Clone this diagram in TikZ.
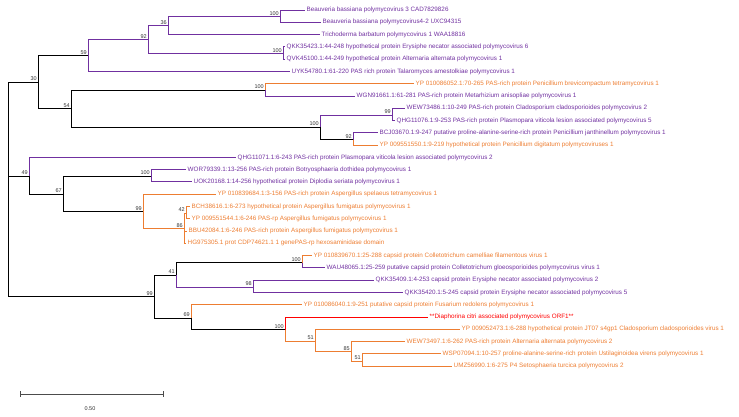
\documentclass[tikz,border=0pt]{standalone}
\usepackage{fontspec}
\setmainfont{Liberation Sans}
\definecolor{vpurple}{RGB}{112,48,160}
\definecolor{vorange}{RGB}{237,125,49}
\definecolor{vred}{RGB}{255,0,0}
\tikzset{
    leaf/.style={anchor=west,inner sep=1.5pt,font=\fontsize{6.3}{7}\selectfont},
    lab/.style={font=\fontsize{5.5}{6}\selectfont,inner sep=1pt,text=black!80},
    br/.style={line width=1pt}
}
\begin{document}
\begin{tikzpicture}[x=1pt,y=-1pt]
    \useasboundingbox (0,0) rectangle (739,416);
    % internal nodes
    \coordinate[label={[lab]above left:100}] (A) at (280,16.5);
    \coordinate[label={[lab]above left:36}] (B) at (168,25.7);
    \coordinate[label={[lab]above left:100}] (C) at (283,53.5);
    \coordinate[label={[lab]above left:92}] (D) at (148,39.6);
    \coordinate[label={[lab]above left:59}] (E) at (88,55.8);
    \coordinate[label={[lab]above left:100}] (F) at (265,90);
    \coordinate[label={[lab]above left:99}] (G) at (392,115);
    \coordinate[label={[lab]above left:92}] (H) at (353,139.5);
    \coordinate[label={[lab]above left:100}] (I) at (320,127);
    \coordinate[label={[lab]above left:54}] (J) at (71,108.5);
    \coordinate[label={[lab]above left:30}] (K) at (38,82);
    \coordinate[label={[lab]above left:42}] (L) at (186,213);
    \coordinate[label={[lab]above left:86}] (M) at (184,228.5);
    \coordinate[label={[lab]above left:99}] (N) at (143,211.7);
    \coordinate[label={[lab]above left:100}] (O) at (151,176);
    \coordinate[label={[lab]above left:67}] (P) at (63,194);
    \coordinate[label={[lab]above left:49}] (Q) at (29,176);
    \coordinate[label={[lab]above left:100}] (U) at (302,262.5);
    \coordinate[label={[lab]above left:98}] (V) at (253,287);
    \coordinate[label={[lab]above left:41}] (T) at (176,275);
    \coordinate[label={[lab]above left:51}] (AA) at (362,361);
    \coordinate[label={[lab]above left:85}] (Z) at (351,351.5);
    \coordinate[label={[lab]above left:51}] (Y) at (315,341);
    \coordinate[label={[lab]above left:100}] (X) at (285,329.5);
    \coordinate[label={[lab]above left:69}] (W) at (191,318);
    \coordinate[label={[lab]above left:99}] (S) at (154,296.5);
    \coordinate (R) at (8,189);

    % leaves
    \node[leaf,text=vpurple] (l1) at (305,10) {Beauveria bassiana polymycovirus 3 CAD7829826};
    \node[leaf,text=vpurple] (l2) at (321,22.3) {Beauveria bassiana polymycovirus4-2 UXC94315};
    \node[leaf,text=vpurple] (l3) at (320,34.6) {Trichoderma barbatum polymycovirus 1 WAA18816};
    \node[leaf,text=vpurple] (l4) at (285,46.8) {QKK35423.1:44-248 hypothetical protein Erysiphe necator associated polymycovirus 6};
    \node[leaf,text=vpurple] (l5) at (285,59.1) {QVK45100.1:44-249 hypothetical protein Alternaria alternata polymycovirus 1};
    \node[leaf,text=vpurple] (l6) at (290,71.4) {UYK54780.1:61-220 PAS rich protein Talaromyces amestolkiae polymycovirus 1};
    \node[leaf,text=vorange] (l7) at (414,83.7) {YP 010086052.1:70-265 PAS-rich protein Penicillium brevicompactum tetramycovirus 1};
    \node[leaf,text=vpurple] (l8) at (355,96) {WGN91661.1:61-281 PAS-rich protein Metarhizium anisopliae polymycovirus 1};
    \node[leaf,text=vpurple] (l9) at (405,108.2) {WEW73486.1:10-249 PAS-rich protein Cladosporium cladosporioides polymycovirus 2};
    \node[leaf,text=vpurple] (l10) at (395,120.5) {QHG11076.1:9-253 PAS-rich protein Plasmopara viticola lesion associated polymycovirus 5};
    \node[leaf,text=vpurple] (l11) at (378,132.8) {BCJ03670.1:9-247 putative proline-alanine-serine-rich protein Penicillium janthinellum polymycovirus 1};
    \node[leaf,text=vorange] (l12) at (378,145.1) {YP 009551550.1:9-219 hypothetical protein Penicillium digitatum polymycoviruses 1};
    \node[leaf,text=vpurple] (l13) at (236,157.4) {QHG11071.1:6-243 PAS-rich protein Plasmopara viticola lesion associated polymycovirus 2};
    \node[leaf,text=vpurple] (l14) at (186,169.6) {WOR79339.1:13-256 PAS-rich protein Botryosphaeria dothidea polymycovirus 1};
    \node[leaf,text=vpurple] (l15) at (192,181.9) {UOK20168.1:14-256 hypothetical protein Diplodia seriata polymycovirus 1};
    \node[leaf,text=vorange] (l16) at (216,194.2) {YP 010839684.1:3-156 PAS-rich protein Aspergillus spelaeus tetramycovirus 1};
    \node[leaf,text=vorange] (l17) at (190,206.5) {BCH38616.1:6-273 hypothetical protein Aspergillus fumigatus polymycovirus 1};
    \node[leaf,text=vorange] (l18) at (190,218.8) {YP 009551544.1:6-246 PAS-rp Aspergillus fumigatus polymycovirus 1};
    \node[leaf,text=vorange] (l19) at (187,231) {BBU42084.1:6-246 PAS-rich protein Aspergillus fumigatus polymycovirus 1};
    \node[leaf,text=vorange] (l20) at (186,243.3) {HG975305.1 prot CDP74621.1 1 genePAS-rp hexosaminidase domain};
    \node[leaf,text=vorange] (l21) at (312,255.6) {YP 010839670.1:25-288 capsid protein Colletotrichum camelliae filamentous virus 1};
    \node[leaf,text=vpurple] (l22) at (325,267.9) {WAU48065.1:25-259 putative capsid protein Colletotrichum gloeosporioides polymycovirus virus 1};
    \node[leaf,text=vpurple] (l23) at (374,280.2) {QKK35409.1:4-253 capsid protein Erysiphe necator associated polymycovirus 2};
    \node[leaf,text=vpurple] (l24) at (403,292.4) {QKK35420.1:5-245 capsid protein Erysiphe necator associated polymycovirus 5};
    \node[leaf,text=vorange] (l25) at (302,304.7) {YP 010086040.1:9-251 putative capsid protein Fusarium redolens polymycovirus 1};
    \node[leaf,text=vred] (l26) at (428,317) {**Diaphorina citri associated polymycovirus ORF1**};
    \node[leaf,text=vorange] (l27) at (460,329.3) {YP 009052473.1:6-288 hypothetical protein JT07 s4gp1 Cladosporium cladosporioides virus 1};
    \node[leaf,text=vorange] (l28) at (405,341.6) {WEW73497.1:6-262 PAS-rich protein Alternaria alternata polymycovirus 2};
    \node[leaf,text=vorange] (l29) at (441,353.8) {WSP07094.1:10-257 proline-alanine-serine-rich protein Ustilaginoidea virens polymycovirus 1};
    \node[leaf,text=vorange] (l30) at (452,366.1) {UMZ56990.1:6-275 P4 Setosphaeria turcica polymycovirus 2};

    % branches
    \draw[br,vpurple] (A) |- (l1.west);
    \draw[br,vpurple] (A) |- (l2.west);
    \draw[br,vpurple] (B) |- (A);
    \draw[br,vpurple] (B) |- (l3.west);
    \draw[br,vpurple] (C) |- (l4.west);
    \draw[br,vpurple] (C) |- (l5.west);
    \draw[br,vpurple] (D) |- (B);
    \draw[br,vpurple] (D) |- (C);
    \draw[br,vpurple] (E) |- (D);
    \draw[br,vpurple] (E) |- (l6.west);
    \draw[br,vorange] (F) |- (l7.west);
    \draw[br,vpurple] (F) |- (l8.west);
    \draw[br,vpurple] (G) |- (l9.west);
    \draw[br,vpurple] (G) |- (l10.west);
    \draw[br,vpurple] (H) |- (l11.west);
    \draw[br,vorange] (H) |- (l12.west);
    \draw[br,vpurple] (I) |- (G);
    \draw[br] (I) |- (H);
    \draw[br] (J) |- (F);
    \draw[br] (J) |- (I);
    \draw[br] (K) |- (E);
    \draw[br] (K) |- (J);
    \draw[br,vorange] (L) |- (l17.west);
    \draw[br,vorange] (L) |- (l18.west);
    \draw[br,vorange] (M) |- (L);
    \draw[br,vorange] (M) |- (l19.west);
    \draw[br,vorange] (M) |- (l20.west);
    \draw[br,vorange] (N) |- (l16.west);
    \draw[br,vorange] (N) |- (M);
    \draw[br,vpurple] (O) |- (l14.west);
    \draw[br,vpurple] (O) |- (l15.west);
    \draw[br] (P) |- (O);
    \draw[br] (P) |- (N);
    \draw[br,vpurple] (Q) |- (l13.west);
    \draw[br] (Q) |- (P);
    \draw[br,vorange] (U) |- (l21.west);
    \draw[br,vpurple] (U) |- (l22.west);
    \draw[br,vpurple] (V) |- (l23.west);
    \draw[br,vpurple] (V) |- (l24.west);
    \draw[br] (T) |- (U);
    \draw[br,vpurple] (T) |- (V);
    \draw[br,vorange] (AA) |- (l29.west);
    \draw[br,vorange] (AA) |- (l30.west);
    \draw[br,vorange] (Z) |- (l28.west);
    \draw[br,vorange] (Z) |- (AA);
    \draw[br,vorange] (Y) |- (l27.west);
    \draw[br,vorange] (Y) |- (Z);
    \draw[br,vred] (X) |- (l26.west);
    \draw[br,vorange] (X) |- (Y);
    \draw[br,vorange] (W) |- (l25.west);
    \draw[br] (W) |- (X);
    \draw[br] (S) |- (T);
    \draw[br] (S) |- (W);
    \draw[br] (R) |- (K);
    \draw[br] (R) |- (Q);
    \draw[br] (R) |- (S);

    % scale bar
    \coordinate (s1) at (20,394);
    \coordinate (s2) at (163,394);
    \draw[black!70] (s1) -- (s2);
    \draw[black!70] (s1) ++(0,-3) -- ++(0,6);
    \draw[black!70] (s2) ++(0,-3) -- ++(0,6);
    \node[lab] (sl) at (90,409) {0.50};
\end{tikzpicture}
\end{document}
